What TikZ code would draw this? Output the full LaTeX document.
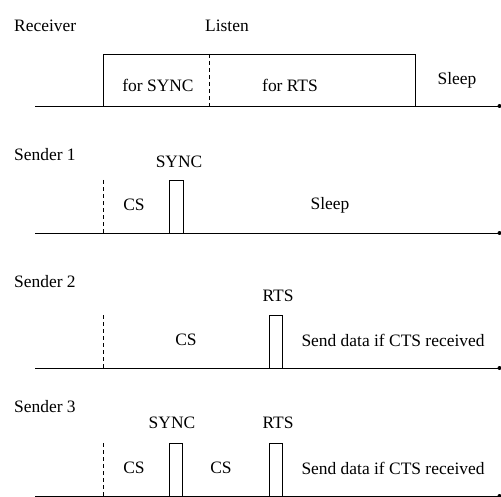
\documentclass[tikz,border=0pt]{standalone}
\usepackage{fontspec}
\setmainfont{Liberation Serif}
\begin{document}
\begin{tikzpicture}[x=1bp,y=-1bp,
  lbl/.style={inner sep=0pt,font=\fontsize{17.5}{19}\selectfont},
  axis/.style={line width=0.9bp},
  pulse/.style={line width=0.9bp},
  sep/.style={line width=0.9bp,dash pattern=on 4bp off 3bp},
  enddot/.style={fill=black,circle,inner sep=0pt,minimum size=4bp}]
\useasboundingbox (0,0) rectangle (501,497);
% Receiver
\node[lbl,anchor=west] (rcv) at (14,26) {Receiver};
\node[lbl] (listen) at (227,26) {Listen};
\draw[axis] (35,106) -- (499,106);
\node[enddot] (rdot) at (499.5,106) {};
\draw[pulse] (103,106) -- (103,54) -- (415,54) -- (415,106);
\draw[sep] (209,54) -- (209,106);
\node[lbl] (fsync) at (158,85) {for SYNC};
\node[lbl] (frts) at (290,85) {for RTS};
\node[lbl] (rsleep) at (457,80) {Sleep};
% Sender 1
\node[lbl,anchor=west] (s1) at (14,155) {Sender 1};
\node[lbl] (s1sync) at (179,162) {SYNC};
\draw[axis] (35,233) -- (499,233);
\node[enddot] (s1dot) at (499.5,233) {};
\draw[sep] (103,180) -- (103,233);
\draw[pulse] (169,233) -- (169,180) -- (183,180) -- (183,233);
\node[lbl] (s1cs) at (134,205) {CS};
\node[lbl] (s1sleep) at (330,205) {Sleep};
% Sender 2
\node[lbl,anchor=west] (s2) at (14,282) {Sender 2};
\node[lbl] (s2rts) at (278,296) {RTS};
\draw[axis] (35,368) -- (499,368);
\node[enddot] (s2dot) at (499.5,368) {};
\draw[sep] (103,315) -- (103,368);
\draw[pulse] (269,368) -- (269,315) -- (282,315) -- (282,368);
\node[lbl] (s2cs) at (186,340) {CS};
\node[lbl] (s2send) at (393,340) {Send data if CTS received};
% Sender 3
\node[lbl,anchor=west] (s3) at (14,407) {Sender 3};
\node[lbl] (s3sync) at (172,423) {SYNC};
\node[lbl] (s3rts) at (278,423) {RTS};
\draw[axis] (35,496) -- (499,496);
\node[enddot] (s3dot) at (499.5,496) {};
\draw[sep] (103,443) -- (103,496);
\draw[pulse] (169,496) -- (169,443) -- (182,443) -- (182,496);
\draw[pulse] (269,496) -- (269,443) -- (282,443) -- (282,496);
\node[lbl] (s3cs1) at (134,468) {CS};
\node[lbl] (s3cs2) at (221,468) {CS};
\node[lbl] (s3send) at (393,468) {Send data if CTS received};
\end{tikzpicture}
\end{document}
